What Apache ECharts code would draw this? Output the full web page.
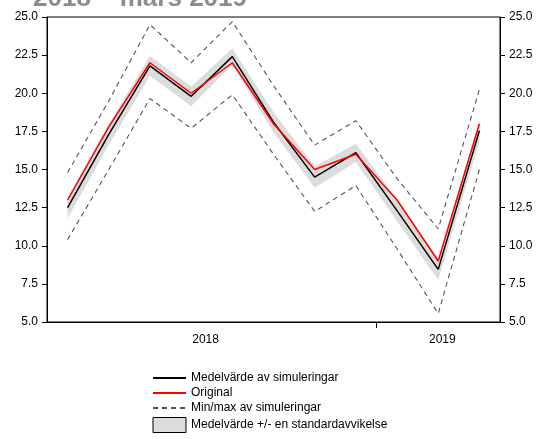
<!DOCTYPE html>
<html><head><meta charset="utf-8">
<script src="https://cdn.jsdelivr.net/npm/echarts@6/dist/echarts.min.js"></script>
<style>html,body{margin:0;padding:0;background:#fff}#c{width:550px;height:439px}</style>
</head><body><div id="c"></div>
<script>
var months = ['maj 2018','jun 2018','jul 2018','aug 2018','sep 2018','okt 2018','nov 2018','dec 2018','jan 2019','feb 2019','mar 2019'];
var yearLabels = ['2018','2019'];
var yearLabelPos = [3.85, 9.6];
var yearTickPos = [8];
var yTicks = [5.0, 7.5, 10.0, 12.5, 15.0, 17.5, 20.0, 22.5, 25.0];
var meanSim = [12.5, 17.3, 21.8, 19.8, 22.4, 18.1, 14.5, 16.1, 12.3, 8.45, 17.55];
var original = [13.0, 17.8, 22.0, 20.0, 22.0, 18.0, 15.0, 16.0, 13.0, 9.0, 18.0];
var maxSim = [14.8, 19.5, 24.5, 22.0, 24.7, 20.5, 16.6, 18.2, 14.4, 11.1, 20.25];
var minSim = [10.4, 15.0, 19.65, 17.7, 19.9, 16.0, 12.25, 13.95, 9.8, 5.55, 15.0];
var stdDev = [0.7, 0.7, 0.65, 0.65, 0.55, 0.65, 0.7, 0.6, 0.7, 0.7, 0.7];

var NAME_MEAN = 'Medelvärde av simuleringar';
var NAME_ORIG = 'Original';
var NAME_MM = 'Min/max av simuleringar';
var NAME_BAND = 'Medelvärde +/- en standardavvikelse';

var bandLow = meanSim.map(function(v,i){return +(v - stdDev[i]).toFixed(3);});
var bandWidth = stdDev.map(function(s){return +(2*s).toFixed(3);});

var font = 'Liberation Sans, Arial, sans-serif';
var chart = echarts.init(document.getElementById('c'), null, {renderer:'canvas'});
var yAxisCommon = {
  type:'value', min:yTicks[0], max:yTicks[yTicks.length-1], interval:2.5,
  axisLine:{show:true, lineStyle:{color:'#000', width:1}},
  axisTick:{show:true, length:5, inside:false, lineStyle:{color:'#000'}},
  splitLine:{show:false},
  axisLabel:{color:'#000', fontSize:12, fontFamily:font, margin:9,
    formatter:function(v){return v.toFixed(1);}}
};
chart.setOption({
  animation:false,
  title:{text:'2018 – mars 2019', left:28, top:-19,
    textStyle:{color:'#8c8c8c', fontSize:26, fontWeight:'bold', fontFamily:font}},
  grid:{left:47, right:50, top:17, bottom:117, show:true, borderColor:'#000', borderWidth:1},
  xAxis:[
    {type:'category', data:months, boundaryGap:true,
     axisLine:{show:true, lineStyle:{color:'#000'}}, axisTick:{show:false}, axisLabel:{show:false}, splitLine:{show:false}},
    {type:'value', min:0, max:11, position:'bottom',
     axisLine:{show:false}, splitLine:{show:false},
     axisTick:{show:true, length:6, customValues:yearTickPos, lineStyle:{color:'#000'}},
     axisLabel:{show:true, customValues:yearLabelPos, color:'#000', fontSize:12, fontFamily:font, margin:12,
       formatter:function(v){var i=yearLabelPos.indexOf(v); return i>=0?yearLabels[i]:'';}}}
  ],
  yAxis:[
    Object.assign({position:'left'}, yAxisCommon),
    Object.assign({position:'right'}, yAxisCommon)
  ],
  legend:{orient:'vertical', left:147, top:367, height:120, itemWidth:33, itemHeight:15, itemGap:3,
    textStyle:{color:'#000', fontSize:12, fontFamily:font},
    itemStyle:{opacity:0},
    data:[
      {name:NAME_MEAN},
      {name:NAME_ORIG},
      {name:NAME_MM},
      {name:NAME_BAND, icon:'rect', itemStyle:{opacity:1, color:'#dcdcdc', borderColor:'#000', borderWidth:1}}
    ],
    selectedMode:false
  },
  series:[
    {name:'band_base', type:'line', stack:'band', data:bandLow, symbol:'none',
     lineStyle:{opacity:0}, silent:true, z:1},
    {name:NAME_BAND, type:'line', stack:'band', data:bandWidth, symbol:'none', color:'#dcdcdc',
     lineStyle:{opacity:0}, areaStyle:{color:'#dcdcdc', opacity:1}, z:1},
    {name:NAME_MM, type:'line', data:maxSim, symbol:'none', color:'#555',
     lineStyle:{color:'#555', width:1.1, type:[5,4]}, z:2},
    {name:NAME_MM, type:'line', data:minSim, symbol:'none', color:'#555',
     lineStyle:{color:'#555', width:1.1, type:[5,4]}, z:2},
    {name:NAME_MEAN, type:'line', data:meanSim, symbol:'none', color:'#000',
     lineStyle:{color:'#000', width:1.5}, z:3},
    {name:NAME_ORIG, type:'line', data:original, symbol:'none', color:'#ff0000',
     lineStyle:{color:'#ff0000', width:1.5}, z:4}
  ]
});
</script></body></html>
